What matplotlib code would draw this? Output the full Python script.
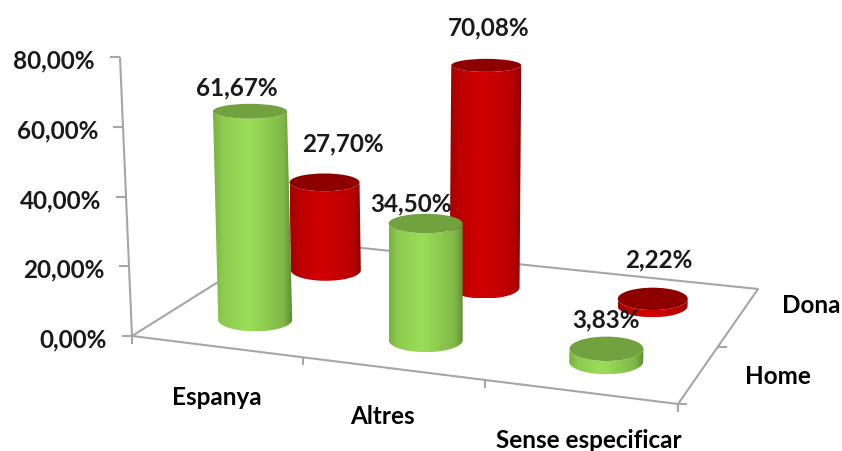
import numpy as np
import matplotlib
matplotlib.use("Agg")
import matplotlib.pyplot as plt
from matplotlib.path import Path
from matplotlib.patches import PathPatch, Ellipse
from matplotlib.colors import LinearSegmentedColormap

# ---- data ----
categories = ["Espanya", "Altres", "Sense especificar"]
series_names = ["Home", "Dona"]
home_values = [61.67, 34.50, 3.83]
dona_values = [27.70, 70.08, 2.22]
value_ticks = [0, 20, 40, 60, 80]

# ---- 3D layout of the picture (pixels) ----
W, H = 842, 452
FL, FR, BR, BL = map(np.array, [(132., 337.), (678., 405.), (758., 290.), (285., 241.)])
AX_TOP = np.array((120., 58.))
Z_SCALE = {0: 3.38, 1: 3.17}
RX = {0: 37.0, 1: 35.0}
CAT_U = [0.161, 0.484, 0.826]       # foreshortened category centres along the floor
TICK_U = [0, 0.313, 0.646, 1]       # foreshortened category separators
GREY = "#a6a6a6"
TXT = "#1a1a1a"
FONT = "Lato"
FS = 17.5

fig = plt.figure(figsize=(W / 100, H / 100), dpi=100)
ax = fig.add_axes([0, 0, 1, 1])
ax.set_xlim(0, W)
ax.set_ylim(H, 0)
ax.axis("off")


def floor(u, v):
    front = FL + (FR - FL) * u
    back = BL + (BR - BL) * u
    return front + (back - front) * v


def project(i, s, value=0.0):
    """category index, series index, value -> pixel position"""
    v = 0.25 + 0.5 * s
    x, y = floor(CAT_U[i], v)
    h = value * Z_SCALE[s]
    return np.array((x + (x - 430) * 0.000144 * h, y - 2.5 - h))


def ry_at(y):
    return 5.2 + 0.02 * y


def cylinder(i, s, value, stops, top, zo):
    rx = RX[s]
    b = project(i, s, 0)
    t = project(i, s, value)
    th = np.linspace(np.pi, 0, 60)
    lower = np.c_[b[0] + rx * np.cos(th), b[1] + ry_at(b[1]) * np.sin(th)]
    upper = np.c_[t[0] + rx * np.cos(th[::-1]), t[1] + ry_at(t[1]) * np.sin(th[::-1])]
    poly = np.r_[lower, upper]
    patch = PathPatch(Path(np.r_[poly, poly[:1]], closed=True), fc="none", ec="none", zorder=zo)
    ax.add_patch(patch)
    x0, x1 = poly[:, 0].min(), poly[:, 0].max()
    y0, y1 = poly[:, 1].min(), poly[:, 1].max()
    grad = LinearSegmentedColormap.from_list("c", stops)(np.linspace(0, 1, 256))[None, :, :]
    im = ax.imshow(grad, extent=(x0, x1, y1, y0), aspect="auto", zorder=zo, interpolation="bilinear")
    im.set_clip_path(patch)
    ax.add_patch(Ellipse(t, 2 * rx, 2 * ry_at(t[1]), fc=top, ec="none", zorder=zo + 0.1))


# axes frame
seg = dict(color=GREY, lw=1.5, solid_capstyle="butt", zorder=1)
ax.plot(*np.c_[BL, FL, FR, BR, BL], **seg)
ax.plot(*np.c_[FL, AX_TOP], **seg)
for v in value_ticks:
    p = FL + (AX_TOP - FL) * v / value_ticks[-1]
    ax.plot([p[0] - 10, p[0]], [p[1], p[1]], **seg)
    ax.text(p[0] - 25, p[1] + 3, f"{v:.2f}%".replace(".", ","), ha="right", va="center",
            fontsize=FS, fontweight="bold", family=FONT, color=TXT, zorder=20)
for u in TICK_U:
    p = floor(u, 0)
    ax.plot([p[0], p[0]], [p[1], p[1] + 8], **seg)
for v in [0, 0.5]:
    p = floor(1, v)
    ax.plot([p[0], p[0] + 9], [p[1], p[1]], **seg)

# bars, back row first
RED = (((0, "#a00000"), (.12, "#bb0000"), (.45, "#d20000"), (.88, "#b80000"), (1, "#8a0000")), "#8e0000")
GREEN = (((0, "#7cb044"), (.12, "#8ccb4e"), (.45, "#9bde58"), (.88, "#80b848"), (1, "#5c8c2c")), "#71a23f")
for i, val in enumerate(dona_values):
    cylinder(i, 1, val, *RED, zo=3 + i * 0.2)
for i, val in enumerate(home_values):
    cylinder(i, 0, val, *GREEN, zo=5 + i * 0.2)

# value labels
home_off = [(-13, -24), (-15, -21), (-1, -30)]
dona_off = [(18, -39), (2, -38), (6, -40)]
for s, vals, offs in ((1, dona_values, dona_off), (0, home_values, home_off)):
    for i, (val, o) in enumerate(zip(vals, offs)):
        t = project(i, s, val)
        ax.text(t[0] + o[0], t[1] + o[1], f"{val:.2f}%".replace(".", ","), ha="center", va="center",
                fontsize=FS, fontweight="bold", family=FONT, color=TXT, zorder=20)

# axis labels
cat_pos = [(217, 398), (382, 417), (589, 441)]
for c, (x, y) in zip(categories, cat_pos):
    ax.text(x, y, c, ha="center", va="center", fontsize=FS, fontweight="bold", family=FONT, color="black", zorder=20)
ser_pos = [(778, 377), (811, 306)]
for c, (x, y) in zip(series_names, ser_pos):
    ax.text(x, y, c, ha="center", va="center", fontsize=FS, fontweight="bold", family=FONT, color="black", zorder=20)

ax.set_xlim(0, W)
ax.set_ylim(H, 0)
fig.savefig("out.png", dpi=100, facecolor="white")
